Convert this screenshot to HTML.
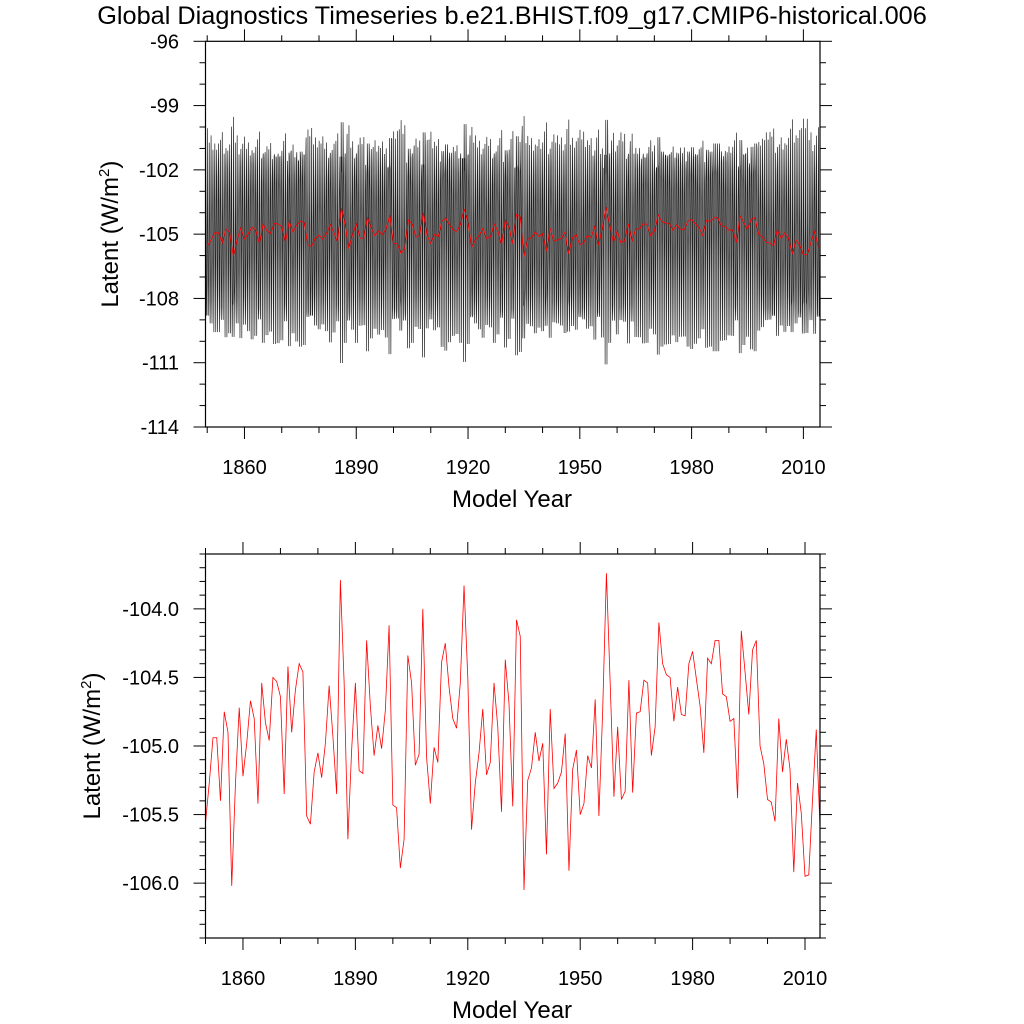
<!DOCTYPE html>
<html><head><meta charset="utf-8"><style>
body{margin:0;background:#fff;}
svg{display:block;font-family:"Liberation Sans",sans-serif;}
</style></head><body>
<svg id="c" width="1024" height="1024" xmlns="http://www.w3.org/2000/svg">
<text x="512" y="24" text-anchor="middle" font-size="25.3">Global Diagnostics Timeseries b.e21.BHIST.f09_g17.CMIP6-historical.006</text>
</svg>
<script>
const startYear = 1850;
const annualValues = [
-105.56,-105.27,-104.94,-104.94,-105.40,-104.75,-104.90,-106.02,-105.27,-104.72,
-105.22,-104.98,-104.67,-104.80,-105.42,-104.54,-104.83,-104.96,-104.50,-104.53,
-104.64,-105.35,-104.42,-104.90,-104.59,-104.40,-104.46,-105.51,-105.57,-105.19,
-105.05,-105.23,-104.98,-104.56,-104.93,-105.35,-103.79,-104.54,-105.68,-105.03,
-104.54,-105.18,-105.20,-104.23,-104.71,-105.07,-104.85,-105.02,-104.74,-104.12,
-105.43,-105.45,-105.89,-105.68,-104.34,-104.54,-105.14,-105.06,-104.00,-105.08,
-105.42,-105.01,-105.12,-104.39,-104.25,-104.57,-104.80,-104.87,-104.54,-103.83,
-104.50,-105.61,-105.27,-105.05,-104.73,-105.21,-105.12,-104.54,-104.86,-105.48,
-104.37,-104.69,-105.44,-104.08,-104.20,-106.05,-105.25,-105.16,-104.90,-105.11,
-104.98,-105.79,-104.73,-105.31,-105.27,-105.19,-104.91,-105.91,-105.17,-105.03,
-105.50,-105.42,-105.07,-105.16,-104.66,-105.51,-104.74,-103.74,-104.54,-105.37,
-104.86,-105.39,-105.33,-104.52,-105.34,-104.76,-104.75,-104.52,-104.54,-105.07,
-104.86,-104.10,-104.40,-104.48,-104.50,-104.82,-104.57,-104.77,-104.78,-104.40,
-104.31,-104.51,-104.71,-105.05,-104.36,-104.40,-104.23,-104.23,-104.62,-104.64,
-104.82,-104.80,-105.38,-104.16,-104.46,-104.77,-104.30,-104.23,-105.00,-105.13,
-105.39,-105.41,-105.55,-104.80,-105.19,-104.95,-105.17,-105.92,-105.27,-105.49,
-105.95,-105.94,-105.39,-104.88,-105.60];
const monthlyAnomaly = [4.0,1.5,-2.5,-4.5,-1.5,2.5,4.3,1.5,-2.5,-4.5,-1.0,2.5];
const xTickLabels = [1860,1890,1920,1950,1980,2010];
const topYTicks = [-96,-99,-102,-105,-108,-111,-114];
const botYTicks = [-104.0,-104.5,-105.0,-105.5,-106.0];

const NS="http://www.w3.org/2000/svg";
const svg=document.getElementById('c');
function mk(tag,attrs,parent){const e=document.createElementNS(NS,tag);for(const k in attrs)e.setAttribute(k,attrs[k]);(parent||svg).appendChild(e);return e;}

function panel(cfg){
  const g=mk('g',{});
  
  
  const L=205.5,R=820,T=cfg.top,B=cfg.bottom;
  const xs=yr=>L+(yr-cfg.x0)/(cfg.x1-cfg.x0)*(R-L);
  const ys=v=>T+(cfg.y1-v)/(cfg.y1-cfg.y0)*(B-T);
  cfg.series.forEach(s=>{
    let d='';
    s.vals.forEach((v,i)=>{d+=(i?'L':'M')+xs(s.xs[i]).toFixed(2)+' '+ys(v).toFixed(2);});
    const p=mk('path',{d:d,fill:'none',stroke:s.color,'stroke-width':s.w},g);
    
    
  });
  const f=mk('rect',{x:L,y:T,width:R-L,height:B-T,fill:'none',stroke:'#000','stroke-width':1.2},g);
  
  
  for(let yr=1850;yr<=2014;yr+=10){
    const x=xs(yr+cfg.xoff);
    if(x<L-0.5||x>R+0.5)continue;
    const major=xTickLabels.indexOf(yr)>=0;const len=major?12:6;
    mk('line',{x1:x,x2:x,y1:B,y2:B+len,stroke:'#000','stroke-width':1},g);
    mk('line',{x1:x,x2:x,y1:T,y2:T-len,stroke:'#000','stroke-width':1},g);
  }
  xTickLabels.forEach(yr=>{
    const t=mk('text',{x:xs(yr+cfg.xoff),y:B+47,'text-anchor':'middle','font-size':20},g);
    t.textContent=yr;
    
    
  });
  for(let v=cfg.y0;v<=cfg.y1+1e-6;v+=cfg.minor){
    const vv=Math.round(v/cfg.minor)*cfg.minor;const y=ys(vv);
    const major=Math.abs(vv/cfg.major-Math.round(vv/cfg.major))<1e-6;
    const len=major?12:6;
    mk('line',{x1:L,x2:L-len,y1:y,y2:y,stroke:'#000','stroke-width':1},g);
    mk('line',{x1:R,x2:R+len,y1:y,y2:y,stroke:'#000','stroke-width':1},g);
  }
  cfg.yTicks.forEach(v=>{
    const t=mk('text',{x:179,y:ys(v)+7,'text-anchor':'end','font-size':20},g);
    t.textContent=cfg.fmt(v);
    
    
  });
  const xt=mk('text',{x:512,y:B+80,'text-anchor':'middle','font-size':24},g);
  xt.textContent='Model Year';
  
  
  const cy=(T+B)/2;
  const yt=mk('text',{x:cfg.ytx,y:cy,'text-anchor':'middle','font-size':24,transform:'rotate(-90 '+cfg.ytx+' '+cy+')'},g);
  yt.innerHTML='Latent (W/m<tspan dy="-9" font-size="15">2</tspan><tspan dy="9">)</tspan>';
  
  
}

const annX=annualValues.map((v,i)=>startYear+i+0.5);
const monX=[],monV=[];
annualValues.forEach((v,i)=>{monthlyAnomaly.forEach((a,m)=>{monX.push(startYear+i+(m+0.5)/12);monV.push(v+a*(1+0.5*(v+105)*(m%2?1:-1)));});});

panel({name:'monthly-panel',top:41.3,bottom:427,x0:startYear+1/24,x1:startYear+annualValues.length-1/24,xoff:0.5,
  y0:-114,y1:-96,major:3,minor:1,yTicks:topYTicks,fmt:v=>String(v),ytx:118,
  series:[{name:'monthly-series',xs:monX,vals:monV,color:'#222',w:0.7},
          {name:'annual-mean-series',xs:annX,vals:annualValues,color:'#ff0000',w:0.9}]});
panel({name:'annual-panel',top:554,bottom:938,x0:startYear+0.5,x1:startYear+annualValues.length-0.5,xoff:0.5,
  y0:-106.4,y1:-103.6,major:0.5,minor:0.1,yTicks:botYTicks,fmt:v=>v.toFixed(1),ytx:100,
  series:[{name:'annual-series',xs:annX,vals:annualValues,color:'#ff0000',w:0.8}]});
</script>
</body></html>
